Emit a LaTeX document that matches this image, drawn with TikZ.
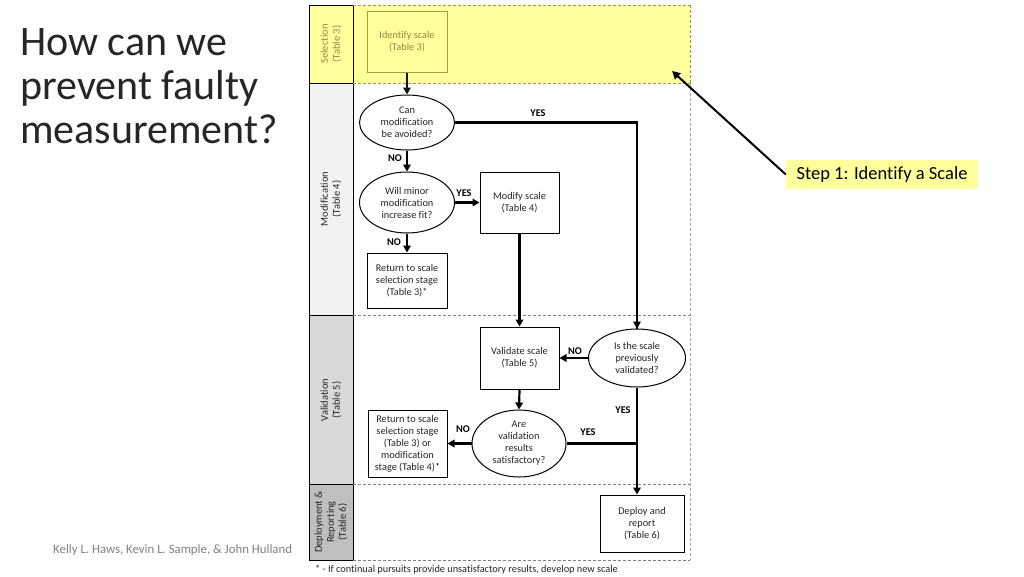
\documentclass[tikz,border=0pt]{standalone}
\usepackage{fontspec}
\setmainfont{Carlito}[Ligatures=CommonOff]
\usetikzlibrary{shapes.geometric,arrows.meta}
\definecolor{selyellow}{HTML}{FFFF9E}
\definecolor{olive}{HTML}{8C8C3A}
\definecolor{oliveline}{HTML}{9A9A40}
\definecolor{txt}{HTML}{262626}
\definecolor{lanea}{HTML}{F2F2F2}
\definecolor{laneb}{HTML}{D9D9D9}
\definecolor{lanec}{HTML}{BFBFBF}
\definecolor{dashgray}{HTML}{808080}
\begin{document}
\begin{tikzpicture}[x=1pt,y=-1pt,
  box/.style={draw=black, line width=1pt, fill=white, minimum width=80pt, minimum height=61pt,
    align=center, font=\fontsize{10.3}{12}\selectfont, text=txt, inner sep=1pt},
  dec/.style={ellipse, draw=black, line width=1pt, fill=white, inner sep=0pt, align=center,
    font=\fontsize{10.3}{12}\selectfont, text=txt},
  flow/.style={line width=2.2pt, -{Triangle[length=7pt,width=7.5pt]}},
  plain/.style={line width=2.2pt},
  lab/.style={font=\fontsize{10.3}{12}\selectfont\bfseries, text=black, inner sep=0pt},
  lanelab/.style={rotate=90, align=center, font=\fontsize{10.5}{12}\selectfont, text=txt},
  sep/.style={dashed, dash pattern=on 3pt off 2pt, draw=dashgray, line width=1pt},
  title/.style={font=\fontsize{42}{46}\selectfont, text=txt, anchor=base west, inner sep=0pt},
]
\useasboundingbox (0,0) rectangle (1024,576);

% title
\node[title] (t1) at (20,55) {How can we};
\node[title] (t2) at (20,99) {prevent faulty};
\node[title] (t3) at (20,143) {measurement?};

% author
\node[font=\fontsize{12.8}{15}\selectfont, text=dashgray, anchor=base west, inner sep=0pt] (auth) at (53,553) {Kelly L. Haws, Kevin L. Sample, \& John Hulland};

% lanes
\fill[selyellow] (309,5) rectangle (690,83);
\fill[lanea] (309,83) rectangle (353,315);
\fill[laneb] (309,315) rectangle (353,484);
\fill[lanec] (309,484) rectangle (353,560);
\draw[line width=1pt] (309,5) rectangle (353,560);
\draw[line width=1pt] (309,83) -- (353,83) (309,315) -- (353,315) (309,484) -- (353,484);
\draw[sep, draw=oliveline] (353,5) -- (690,5) (353,83) -- (690,83);
\draw[sep] (353,315) -- (690,315) (353,484) -- (690,484) (353,560) -- (690,560);
\draw[sep, draw=oliveline] (690,5) -- (690,83);
\draw[sep, draw=gray!70] (690,83) -- (690,560);

\node[lanelab, text=olive] (l1) at (331,44) {Selection\\(Table 3)};
\node[lanelab] (l2) at (331,199) {Modification\\(Table 4)};
\node[lanelab] (l3) at (331,400) {Validation\\(Table 5)};
\node[lanelab] (l4) at (331,522) {Deployment \&\\Reporting\\(Table 6)};

% nodes
\node[box, draw=oliveline, fill=selyellow, text=olive] (ident) at (407,41.5) {Identify scale\\(Table 3)};
\node[dec, minimum width=95pt, minimum height=55pt] (e1) at (407,122.5) {Can\\modification\\be avoided?};
\node[dec, minimum width=95pt, minimum height=61pt] (e2) at (407,202.5) {Will minor\\modification\\increase fit?};
\node[box, minimum width=79pt, minimum height=61pt] (mod) at (519.5,202.5) {Modify scale\\(Table 4)};
\node[box, minimum width=80pt, minimum height=55pt] (ret1) at (407,280.5) {Return to scale\\selection stage\\(Table 3)*};
\node[box, minimum width=79pt, minimum height=62pt] (val) at (519.5,358) {Validate scale\\(Table 5)};
\node[dec, minimum width=97pt, minimum height=58pt] (e4) at (637,358) {Is the scale\\previously\\validated?};
\node[dec, minimum width=94pt, minimum height=67pt] (e3) at (519,443.5) {Are\\validation\\results\\satisfactory?};
\node[box, minimum width=79pt, minimum height=67pt] (ret2) at (407.5,443.5) {Return to scale\\selection stage\\(Table 3) or\\modification\\stage (Table 4)*};
\node[box, minimum width=84pt, minimum height=57pt] (dep) at (642,523.5) {Deploy and\\report\\(Table 6)};

% connectors
\draw[flow, line width=1.8pt, draw=black!85!olive] (ident.south) -- (e1.north);
\draw[plain] (e1.east) -| coordinate[pos=0.5] (c1) (e4.north);
\draw[flow] (c1) -- (e4.north);
\node[lab] (y1) at (538,113) {YES};
\draw[flow] (e1.south) -- (e2.north);
\node[lab] (n1) at (395,158) {NO};
\draw[flow] (e2.east) -- (mod.west);
\node[lab] (y2) at (464,193) {YES};
\draw[flow] (e2.south) -- (ret1.north);
\node[lab] (n2) at (394,242) {NO};
\draw[flow] (mod.south) -- (val.north);
\draw[flow] (e4.west) -- (val.east);
\node[lab] (n3) at (575,351) {NO};
\draw[flow] (e4.south) -- (e4.south |- dep.north);
\node[lab] (y3) at (623,410) {YES};
\draw[flow] (val.south) -- (e3.north);
\coordinate (j) at (e3.east -| e4.south);
\draw[plain] (e3.east) -- (j);
\node[lab] (y4) at (588,432) {YES};
\draw[flow] (e3.west) -- (e3.west -| ret2.east);
\node[lab] (n4) at (463,429) {NO};

% footnote
\node[font=\fontsize{10.3}{12}\selectfont, text=txt, anchor=base west, inner sep=0pt] (fn) at (315,572) {* - If continual pursuits provide unsatisfactory results, develop new scale};

% callout
\node[fill=selyellow, minimum width=192pt, minimum height=29pt, inner sep=0pt,
  font=\fontsize{18.5}{22}\selectfont, text=black] (call) at (882,174.5) {Step 1: Identify a Scale};
\coordinate (tip) at (672,71);
\draw[line width=2pt, -{Triangle[length=8pt,width=8pt]}] (call.west) -- (tip);
\end{tikzpicture}
\end{document}
